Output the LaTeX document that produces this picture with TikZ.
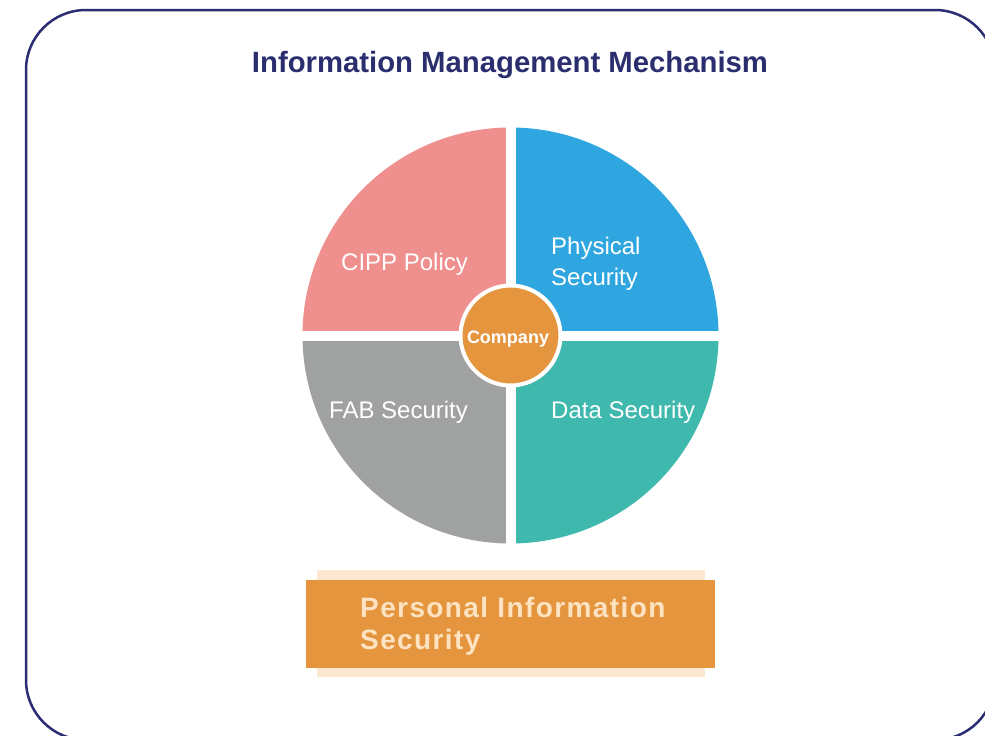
\documentclass[tikz,border=0pt]{standalone}
\usepackage{fontspec}
\setmainfont{Liberation Sans}
\usetikzlibrary{calc}
\definecolor{framenavy}{HTML}{2B2D72}
\definecolor{titlenavy}{HTML}{2A2E6E}
\definecolor{pinkq}{HTML}{EF8F8E}
\definecolor{blueq}{HTML}{2FA6E0}
\definecolor{grayq}{HTML}{A0A2A1}
\definecolor{tealq}{HTML}{3FB9AD}
\definecolor{orangeq}{HTML}{E6953F}
\definecolor{peachbg}{HTML}{FCE8D0}
\definecolor{peachtext}{HTML}{FDE3C2}
\begin{document}
\begin{tikzpicture}[x=1pt,y=1pt,
  framebox/.style={draw=framenavy,line width=2.5pt,rounded corners=60pt},
  quadlabel/.style={text=white,inner sep=0pt,font=\fontsize{24}{31}\selectfont,align=left},
  sep/.style={draw=white,line width=10pt}]
\useasboundingbox (0,0) rectangle (985,-736);
\fill[white] (0,0) rectangle (985,-736);
\begin{scope}
\clip (0,0) rectangle (985,-736);
\draw[framebox] (26,-10) rectangle (995,-740);
\end{scope}
\node[anchor=base,inner sep=0pt,text=titlenavy,font=\fontsize{29.3}{34}\selectfont\bfseries] (title) at (510,-72) {Information Management Mechanism};
\coordinate (c) at (510.5,-335.5);
\fill[pinkq] (c) -- ++(180:208) arc[start angle=180,end angle=90,radius=208] -- cycle;
\fill[blueq] (c) -- ++(90:208) arc[start angle=90,end angle=0,radius=208] -- cycle;
\fill[tealq] (c) -- ++(0:208) arc[start angle=0,end angle=-90,radius=208] -- cycle;
\fill[grayq] (c) -- ++(-90:208) arc[start angle=-90,end angle=-180,radius=208] -- cycle;
\draw[sep] ($(c)+(-212,0)$) -- ($(c)+(212,0)$);
\draw[sep] ($(c)+(0,-212)$) -- ($(c)+(0,212)$);
\node[circle,fill=orangeq,draw=white,line width=4pt,minimum size=100pt,inner sep=0pt] (company) at (c) {};
\node[anchor=base,inner sep=0pt,text=white,font=\fontsize{18}{20}\selectfont\bfseries] (companytext) at (508,-343) {Company};
\node[quadlabel,anchor=base west] (cipp) at (341,-270) {CIPP Policy};
\node[quadlabel,anchor=base west] (phys) at (551,-285) {Physical\\Security};
\node[quadlabel,anchor=base west] (fab) at (329,-418) {FAB Security};
\node[quadlabel,anchor=base west] (data) at (551,-418) {Data Security};
\fill[peachbg] (317,-570) rectangle (705,-677);
\fill[orangeq] (306,-580) rectangle (715,-668);
\node[anchor=base west,inner sep=0pt,text=peachtext,align=left,font=\fontsize{28}{32}\selectfont\bfseries\addfontfeature{LetterSpace=5}] (pis) at (360,-649) {Personal Information\\Security};
\end{tikzpicture}
\end{document}
